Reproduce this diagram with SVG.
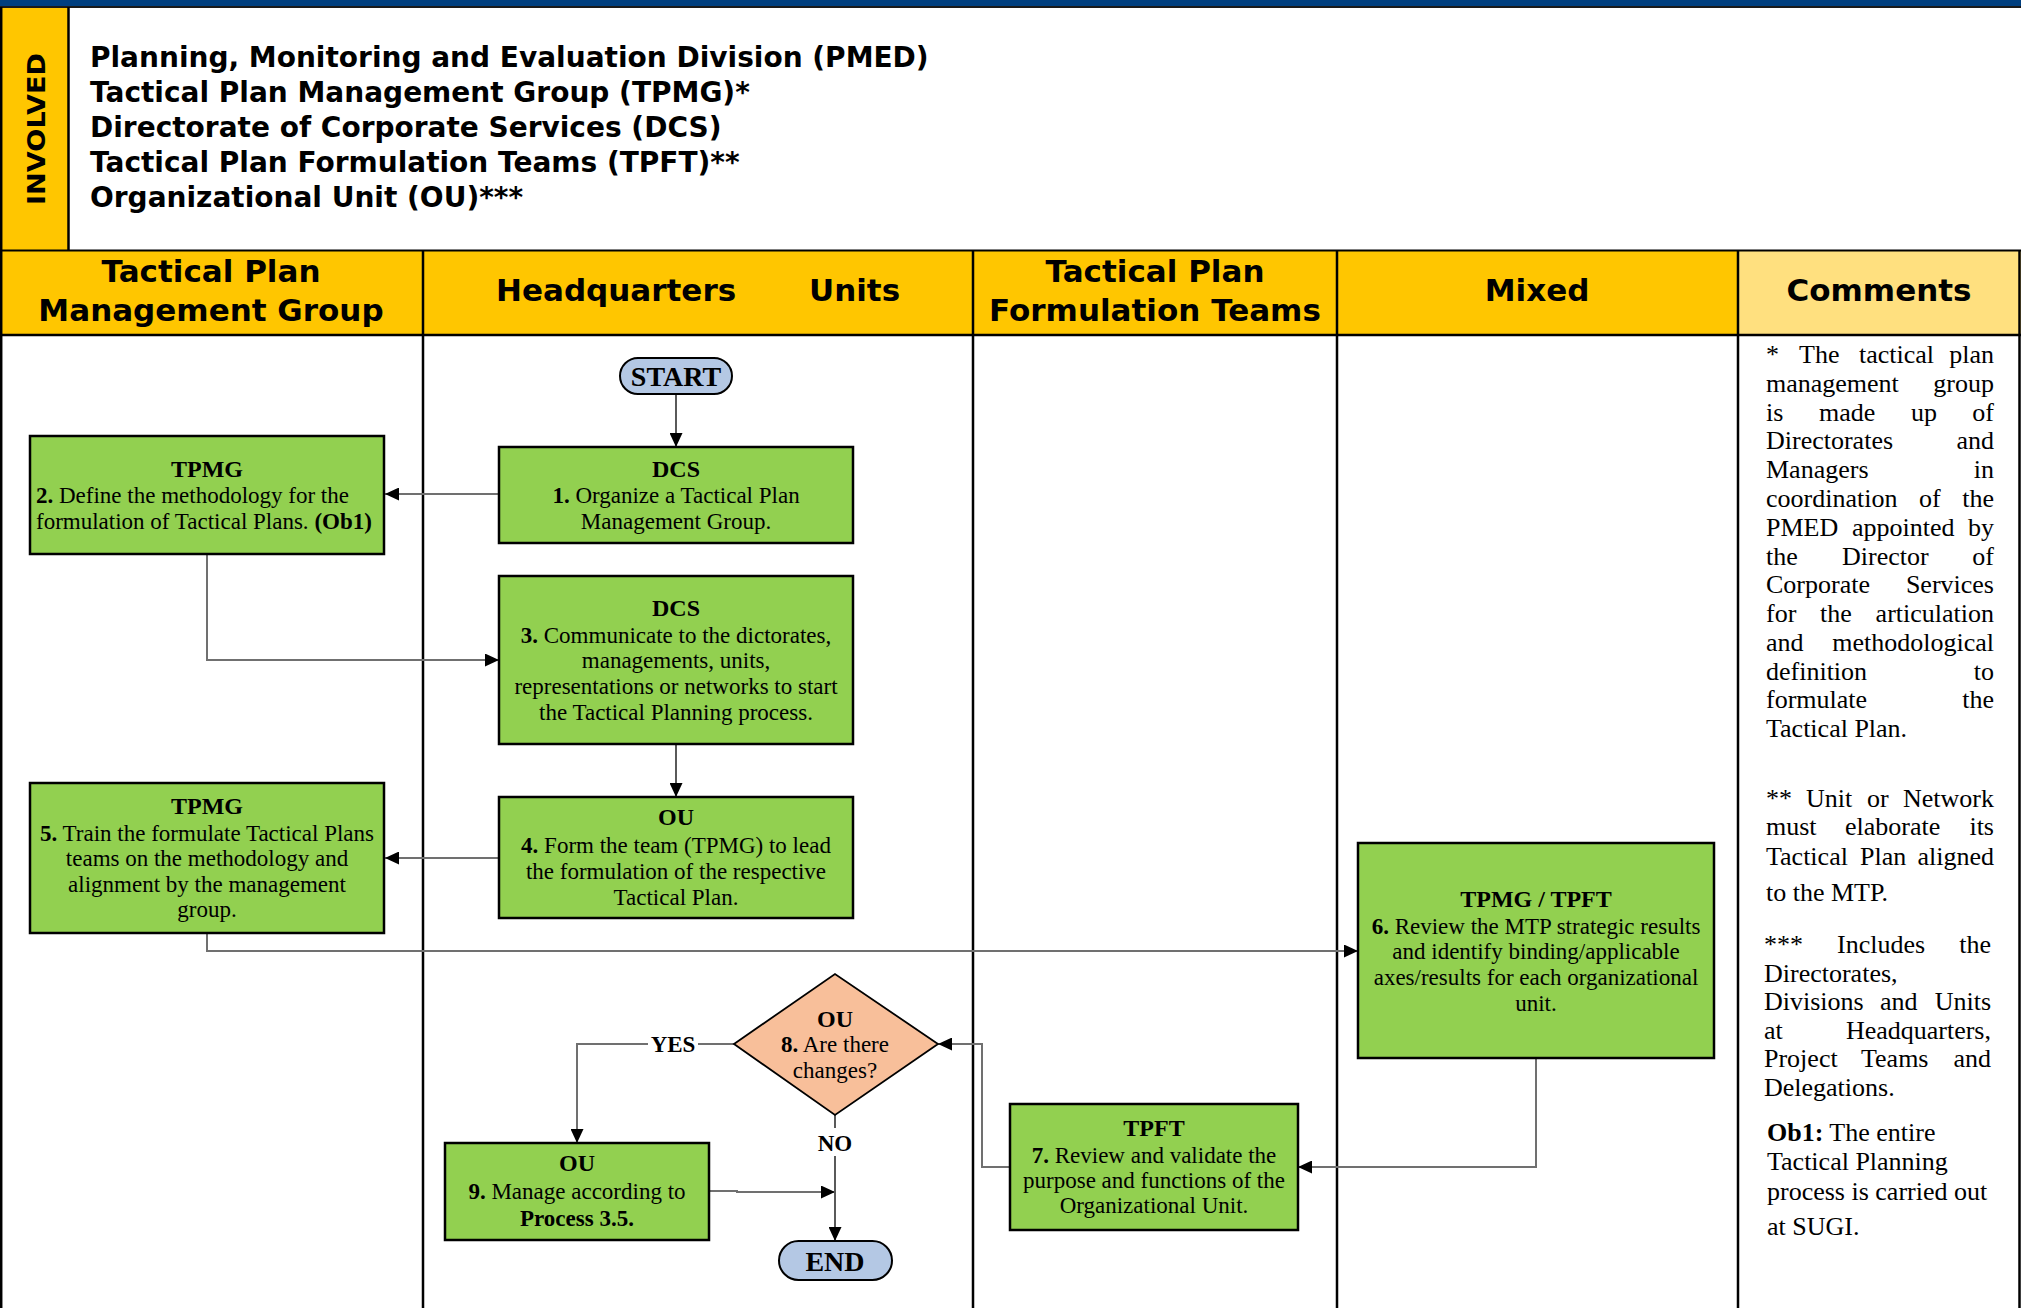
<svg xmlns="http://www.w3.org/2000/svg" width="2021" height="1308" viewBox="0 0 2021 1308">
  <style>
    .lane-h { font-family: "DejaVu Sans", Verdana, sans-serif; font-weight: bold; font-size: 31px; fill: #000; }
    .inv { font-family: "DejaVu Sans", Verdana, sans-serif; font-weight: bold; font-size: 28px; fill: #000; }
    .t { font-family: "Liberation Serif", "Times New Roman", serif; font-size: 23px; fill: #000; }
    .c { text-anchor: middle; }
    .e { text-anchor: end; }
    .b { font-weight: bold; }
    .ttl { font-size: 24px; font-weight: bold; }
    .term-t { font-size: 28px; font-weight: bold; }
    .cm { font-family: "Liberation Serif", "Times New Roman", serif; font-size: 26px; fill: #000; }
    .box { fill: #92D050; stroke: #000; stroke-width: 2.5; }
    .term { fill: #B4C8E4; stroke: #000; stroke-width: 2; }
    .dec { fill: #F8BF9A; stroke: #000; stroke-width: 1.8; }
    .grid { stroke: #000; stroke-width: 2.5; fill: none; }
    .lk { fill: none; stroke: #000; stroke-width: 1.3; marker-end: url(#arr); }
    .lg { fill: none; stroke: #707070; stroke-width: 2; marker-end: url(#arr); }
    .lbl { font-family: "Liberation Serif", "Times New Roman", serif; font-size: 23px; font-weight: bold; fill: #000; text-anchor: middle; }
  </style>
  <defs>
    <marker id="arr" markerUnits="userSpaceOnUse" markerWidth="15" markerHeight="13" refX="14" refY="6.5" orient="auto">
      <path d="M0,0 L14,6.5 L0,13 Z" fill="#000"/>
    </marker>
  </defs>

  <!-- page background -->
  <rect x="0" y="0" width="2021" height="1308" fill="#fff"/>

  <!-- top band and "involved" panel -->
  <g id="involved">
    <rect x="0" y="0" width="2021" height="6" fill="#003F7F"/>
    <rect x="0" y="6" width="2021" height="2" fill="#1a1a1a"/>
    <rect x="0" y="8" width="68" height="242" fill="#FFC600"/>
    <line x1="68.5" y1="7" x2="68.5" y2="251" class="grid" stroke-width="2"/>
    <text class="inv" text-anchor="middle" textLength="152" lengthAdjust="spacingAndGlyphs" transform="translate(45,129) rotate(-90)" style="font-size:25px">INVOLVED</text>
    <text class="inv" x="90" y="67">Planning, Monitoring and Evaluation Division (PMED)</text>
    <text class="inv" x="90" y="102">Tactical Plan Management Group (TPMG)*</text>
    <text class="inv" x="90" y="137">Directorate of Corporate Services (DCS)</text>
    <text class="inv" x="90" y="172">Tactical Plan Formulation Teams (TPFT)**</text>
    <text class="inv" x="90" y="207">Organizational Unit (OU)***</text>
  </g>

  <!-- lane headers -->
  <g id="lane-headers">
    <rect x="0" y="251" width="1738" height="84" fill="#FFC600"/>
    <rect x="1738" y="251" width="283" height="84" fill="#FFE07F"/>
    <text class="lane-h c" x="211" y="282">Tactical Plan</text>
    <text class="lane-h c" x="211" y="321">Management Group</text>
    <text class="lane-h" x="496" y="301">Headquarters</text>
    <text class="lane-h" x="809" y="301">Units</text>
    <text class="lane-h c" x="1155" y="282">Tactical Plan</text>
    <text class="lane-h c" x="1155" y="321">Formulation Teams</text>
    <text class="lane-h c" x="1537" y="301">Mixed</text>
    <text class="lane-h c" x="1879" y="301">Comments</text>
  </g>

  <!-- table rules -->
  <g id="grid" class="grid">
    <line x1="1.2" y1="7" x2="1.2" y2="1308"/>
    <line x1="0" y1="250.5" x2="2021" y2="250.5" stroke-width="2"/>
    <line x1="0" y1="335" x2="2021" y2="335"/>
    <line x1="423" y1="251" x2="423" y2="1308"/>
    <line x1="973" y1="251" x2="973" y2="1308"/>
    <line x1="1337" y1="251" x2="1337" y2="1308"/>
    <line x1="1738" y1="251" x2="1738" y2="1308"/>
    <line x1="2019.5" y1="251" x2="2019.5" y2="1308"/>
  </g>

  <!-- connectors -->
  <g id="connectors">
    <path class="lk" d="M676,394 V447"/>
    <path class="lg" d="M499,494 H385"/>
    <path class="lg" d="M207,554 V660 H499"/>
    <path class="lk" d="M676,744 V797"/>
    <path class="lg" d="M499,858 H385"/>
    <path class="lg" d="M207,933 V951 H1358"/>
    <path class="lg" d="M1536,1058 V1167 H1298"/>
    <path class="lg" d="M1010,1167 H982 V1044 H938"/>
    <path class="lg" d="M734,1044 H577 V1143"/>
    <path class="lk" d="M835,1115 V1241"/>
    <path class="lg" d="M709,1191 H737 V1192 H835"/>
    <rect x="648" y="1032" width="50" height="26" fill="#fff"/>
    <text class="lbl" x="673" y="1052">YES</text>
    <rect x="815" y="1128" width="40" height="28" fill="#fff"/>
    <text class="lbl" x="835" y="1151">NO</text>
  </g>

  <!-- process nodes -->
  <g id="start">
    <rect class="term" x="620" y="358" width="112" height="36" rx="18"/>
    <text class="t c term-t" x="676" y="386">START</text>
  </g>

  <g id="step1">
    <rect class="box" x="499" y="447" width="354" height="96"/>
    <text class="t c ttl" x="676" y="477">DCS</text>
    <text class="t c" x="676" y="503"><tspan class="b">1.</tspan> Organize a Tactical Plan</text>
    <text class="t c" x="676" y="529">Management Group.</text>
  </g>

  <g id="step2">
    <rect class="box" x="30" y="436" width="354" height="118"/>
    <text class="t c ttl" x="207" y="477">TPMG</text>
    <text class="t" x="36" y="503"><tspan class="b">2.</tspan> Define the methodology for the</text>
    <text class="t" x="36" y="529">formulation of Tactical Plans. <tspan class="b">(Ob1)</tspan></text>
  </g>

  <g id="step3">
    <rect class="box" x="499" y="576" width="354" height="168"/>
    <text class="t c ttl" x="676" y="616">DCS</text>
    <text class="t c" x="676" y="643"><tspan class="b">3.</tspan> Communicate to the dictorates,</text>
    <text class="t c" x="676" y="668">managements, units,</text>
    <text class="t c" x="676" y="694">representations or networks to start</text>
    <text class="t c" x="676" y="720">the Tactical Planning process.</text>
  </g>

  <g id="step4">
    <rect class="box" x="499" y="797" width="354" height="121"/>
    <text class="t c ttl" x="676" y="825">OU</text>
    <text class="t c" x="676" y="853"><tspan class="b">4.</tspan> Form the team (TPMG) to lead</text>
    <text class="t c" x="676" y="879">the formulation of the respective</text>
    <text class="t c" x="676" y="905">Tactical Plan.</text>
  </g>

  <g id="step5">
    <rect class="box" x="30" y="783" width="354" height="150"/>
    <text class="t c ttl" x="207" y="814">TPMG</text>
    <text class="t c" x="207" y="841"><tspan class="b">5.</tspan> Train the formulate Tactical Plans</text>
    <text class="t c" x="207" y="866">teams on the methodology and</text>
    <text class="t c" x="207" y="892">alignment by the management</text>
    <text class="t c" x="207" y="917">group.</text>
  </g>

  <g id="step6">
    <rect class="box" x="1358" y="843" width="356" height="215"/>
    <text class="t c ttl" x="1536" y="907">TPMG / TPFT</text>
    <text class="t c" x="1536" y="934"><tspan class="b">6.</tspan> Review the MTP strategic results</text>
    <text class="t c" x="1536" y="959">and identify binding/applicable</text>
    <text class="t c" x="1536" y="985">axes/results for each organizational</text>
    <text class="t c" x="1536" y="1011">unit.</text>
  </g>

  <g id="step7">
    <rect class="box" x="1010" y="1104" width="288" height="126"/>
    <text class="t c ttl" x="1154" y="1136">TPFT</text>
    <text class="t c" x="1154" y="1163"><tspan class="b">7.</tspan> Review and validate the</text>
    <text class="t c" x="1154" y="1188">purpose and functions of the</text>
    <text class="t c" x="1154" y="1213">Organizational Unit.</text>
  </g>

  <g id="step8">
    <polygon class="dec" points="734,1044 835,974 938,1044 835,1115"/>
    <text class="t c ttl" x="835" y="1027">OU</text>
    <text class="t c" x="835" y="1052"><tspan class="b">8.</tspan> Are there</text>
    <text class="t c" x="835" y="1078">changes?</text>
  </g>

  <g id="step9">
    <rect class="box" x="445" y="1143" width="264" height="97"/>
    <text class="t c ttl" x="577" y="1171">OU</text>
    <text class="t c" x="577" y="1199"><tspan class="b">9.</tspan> Manage according to</text>
    <text class="t c b" x="577" y="1226">Process 3.5.</text>
  </g>

  <g id="end">
    <rect class="term" x="779" y="1241" width="113" height="39" rx="19.5"/>
    <text class="t c term-t" x="835" y="1271">END</text>
  </g>

  <!-- comments column, justified lines -->
  <g id="comments" class="cm">
    <text x="1766" y="363">*</text><text x="1799" y="363">The</text><text x="1859" y="363">tactical</text><text class="e" x="1994" y="363">plan</text>
    <text x="1766" y="392">management</text><text class="e" x="1994" y="392">group</text>
    <text x="1766" y="421">is</text><text x="1819" y="421">made</text><text x="1911" y="421">up</text><text class="e" x="1994" y="421">of</text>
    <text x="1766" y="449">Directorates</text><text class="e" x="1994" y="449">and</text>
    <text x="1766" y="478">Managers</text><text class="e" x="1994" y="478">in</text>
    <text x="1766" y="507">coordination</text><text x="1919" y="507">of</text><text class="e" x="1994" y="507">the</text>
    <text x="1766" y="536">PMED</text><text x="1852" y="536">appointed</text><text class="e" x="1994" y="536">by</text>
    <text x="1766" y="565">the</text><text x="1842" y="565">Director</text><text class="e" x="1994" y="565">of</text>
    <text x="1766" y="593">Corporate</text><text class="e" x="1994" y="593">Services</text>
    <text x="1766" y="622">for</text><text x="1820" y="622">the</text><text class="e" x="1994" y="622">articulation</text>
    <text x="1766" y="651">and</text><text class="e" x="1994" y="651">methodological</text>
    <text x="1766" y="680">definition</text><text class="e" x="1994" y="680">to</text>
    <text x="1766" y="708">formulate</text><text class="e" x="1994" y="708">the</text>
    <text x="1766" y="737">Tactical Plan.</text>

    <text x="1766" y="807">**</text><text x="1806" y="807">Unit</text><text x="1867" y="807">or</text><text class="e" x="1994" y="807">Network</text>
    <text x="1766" y="835">must</text><text x="1845" y="835">elaborate</text><text class="e" x="1994" y="835">its</text>
    <text x="1766" y="865">Tactical</text><text x="1860" y="865">Plan</text><text class="e" x="1994" y="865">aligned</text>
    <text x="1766" y="901">to the MTP.</text>

    <text x="1764" y="953">***</text><text x="1837" y="953">Includes</text><text class="e" x="1991" y="953">the</text>
    <text x="1764" y="982">Directorates,</text>
    <text x="1764" y="1010">Divisions</text><text x="1880" y="1010">and</text><text class="e" x="1991" y="1010">Units</text>
    <text x="1764" y="1039">at</text><text class="e" x="1991" y="1039">Headquarters,</text>
    <text x="1764" y="1067">Project</text><text x="1861" y="1067">Teams</text><text class="e" x="1991" y="1067">and</text>
    <text x="1764" y="1096">Delegations.</text>

    <text x="1767" y="1141"><tspan font-weight="bold">Ob1:</tspan> The entire</text>
    <text x="1767" y="1170">Tactical Planning</text>
    <text x="1767" y="1200">process is carried out</text>
    <text x="1767" y="1235">at SUGI.</text>
  </g>
</svg>
